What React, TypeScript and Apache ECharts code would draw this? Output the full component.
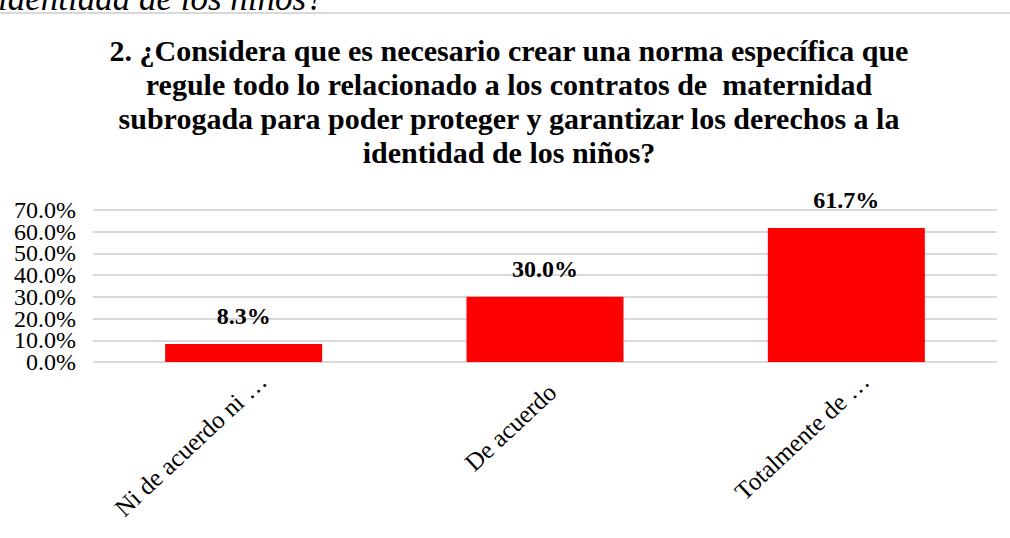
import React, { useEffect, useRef } from "react";
import * as echarts from "echarts";

const categories = ["Ni de acuerdo ni …", "De acuerdo", "Totalmente de …"];
const values = [8.3, 30.0, 61.7];
const yTicks = [0, 10, 20, 30, 40, 50, 60, 70];
const titleText =
  "2. ¿Considera que es necesario crear una norma específica que\nregule todo lo relacionado a los contratos de  maternidad\nsubrogada para poder proteger y garantizar los derechos a la\nidentidad de los niños?";
const topFragment = "identidad de los niños?";

const SERIF = "'Liberation Serif', 'Times New Roman', serif";

export default function App() {
  const ref = useRef<HTMLDivElement>(null);
  useEffect(() => {
    if (!ref.current) return;
    const chart = echarts.init(ref.current, null, { renderer: "svg" });
    const catData = categories.map((c) =>
      c.endsWith("…")
        ? { value: c, textStyle: { padding: [0, -26, 0, 0] } }
        : { value: c, textStyle: { padding: [0, -10, 0, 0] } }
    );
    const yLabelStyle = {
      margin: 17,
      hideOverlap: false,
      fontFamily: SERIF,
      fontSize: 24,
      color: "#000000",
      formatter: (v: number) => `${Number(v).toFixed(1)}%`,
    };
    const makeY = (ticks: number[], grid: boolean) => ({
      type: "value",
      min: yTicks[0],
      max: yTicks[yTicks.length - 1],
      interval: 10,
      position: "left",
      offset: 0,
      axisLine: { show: false },
      axisTick: { show: false },
      splitLine: { show: grid, lineStyle: { color: "#d9d9d9", width: 2 } },
      axisLabel: { ...yLabelStyle, customValues: ticks },
    });
    chart.setOption({
      animation: false,
      backgroundColor: "#ffffff",
      graphic: [
        {
          type: "text",
          x: -2,
          y: 16,
          style: {
            text: topFragment,
            font: `italic 35px ${SERIF}`,
            fill: "#000000",
            verticalAlign: "bottom",
          },
        },
        {
          type: "line",
          shape: { x1: 0, y1: 13, x2: 1010, y2: 13 },
          style: { stroke: "#d9d9d9", lineWidth: 2 },
        },
        {
          type: "text",
          x: 509,
          y: 33,
          style: {
            text: titleText,
            font: `bold 30px ${SERIF}`,
            lineHeight: 34,
            fill: "#000000",
            align: "center",
            verticalAlign: "top",
          },
        },
      ],
      grid: { left: 93, right: 13, top: 210, bottom: 176, containLabel: false },
      xAxis: {
        type: "category",
        data: catData,
        axisLine: { show: false },
        axisTick: { show: false },
        axisLabel: {
          rotate: 43,
          interval: 0,
          margin: 33,
          fontFamily: SERIF,
          fontSize: 25,
          color: "#000000",
        },
      },
      yAxis: [
        makeY(yTicks.filter((_, i) => i % 2 === 0), true),
        makeY(yTicks.filter((_, i) => i % 2 === 1), false),
      ],
      series: [
        {
          type: "bar",
          data: values,
          yAxisIndex: 0,
          barWidth: 157,
          itemStyle: { color: "#ff0000" },
          label: {
            show: true,
            position: "top",
            distance: 16,
            fontFamily: SERIF,
            fontWeight: "bold",
            fontSize: 24,
            color: "#000000",
            formatter: (p: any) => `${Number(p.value).toFixed(1)}%`,
          },
        },
      ],
    });
    return () => chart.dispose();
  }, []);
  return (
    <div
      ref={ref}
      style={{ position: "fixed", left: 0, top: 0, width: 1010, height: 538 }}
    />
  );
}
